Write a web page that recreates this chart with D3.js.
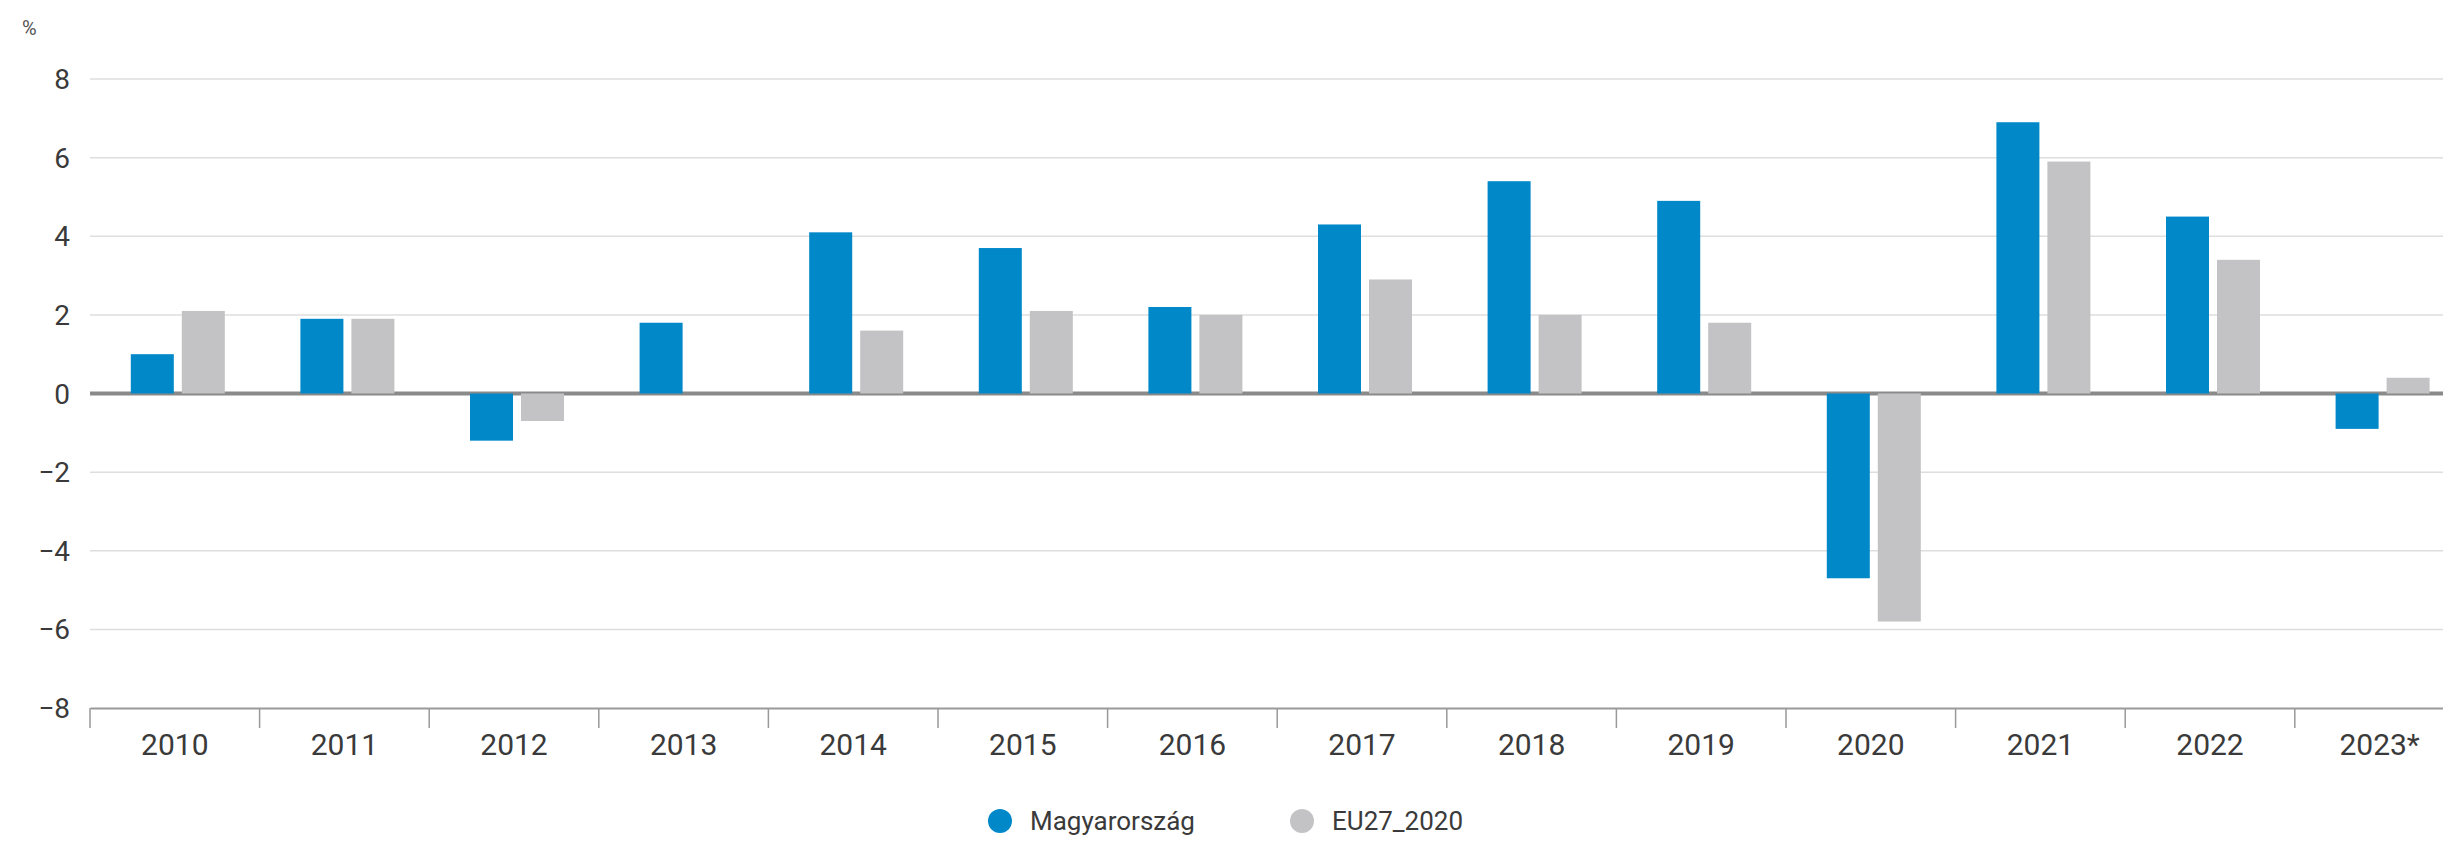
<!DOCTYPE html>
<html><head><meta charset="utf-8">
<script src="https://cdn.jsdelivr.net/npm/d3@7"></script>
<style>html,body{margin:0;padding:0;background:#fff;overflow:hidden}</style>
</head><body>
<svg id="chart" width="2443" height="844"></svg>
<script>
const categories = ["2010","2011","2012","2013","2014","2015","2016","2017","2018","2019","2020","2021","2022","2023*"];
const seriesNames = ["Magyarország","EU27_2020"];
const hungary = [1.0, 1.9, -1.2, 1.8, 4.1, 3.7, 2.2, 4.3, 5.4, 4.9, -4.7, 6.9, 4.5, -0.9];
const eu = [2.1, 1.9, -0.7, 0.0, 1.6, 2.1, 2.0, 2.9, 2.0, 1.8, -5.8, 5.9, 3.4, 0.4];
const yTicks = [-8,-6,-4,-2,0,2,4,6,8];
const colors = ["#0088c9","#c3c3c5"];

(function(){
const svg = d3.select("#chart");
const font = "Roboto, 'Noto Sans', sans-serif";
const plotLeft = 90, bandW = 169.6, plotTop = 79, plotBottom = 708;
const x0 = d3.scaleBand().domain(categories).range([plotLeft, plotLeft + bandW*categories.length]).padding(0);
const y = d3.scaleLinear().domain([-8, 8]).range([plotBottom, plotTop]);
const barW = 43, gap = 8;
const x1 = d3.scaleOrdinal().domain(seriesNames).range([0, barW + gap]);
const groupOff = (x0.bandwidth() - (2*barW + gap))/2 + 3;

// gridlines
svg.append("g").selectAll("line").data(yTicks.filter(d => d !== 0 && d !== -8)).join("line")
  .attr("x1", plotLeft).attr("x2", 2443).attr("y1", d => y(d)).attr("y2", d => y(d))
  .attr("stroke", "#dedede").attr("stroke-width", 1.5);

// y labels
svg.append("g").selectAll("text").data(yTicks).join("text")
  .attr("x", 70).attr("y", d => y(d)).attr("dy", "0.36em").attr("text-anchor", "end")
  .attr("font-family", font).attr("font-size", 28).attr("fill", "#3a3a3a")
  .text(d => d < 0 ? "−" + Math.abs(d) : d);
svg.append("text").attr("x", 22).attr("y", 28).attr("dy","0.35em")
  .attr("font-family", font).attr("font-size", 20).attr("fill", "#555").text("%");

// zero line
svg.append("line").attr("x1", plotLeft).attr("x2", 2443).attr("y1", y(0)).attr("y2", y(0))
  .attr("stroke", "#8a8a8a").attr("stroke-width", 4);

// x axis
const xAxis = d3.axisBottom(x0).tickSize(0).tickPadding(26);
const gx = svg.append("g").attr("transform", `translate(0,${plotBottom})`).call(xAxis);
gx.select(".domain").attr("stroke", "#999").attr("stroke-width", 2);
gx.selectAll("text").attr("font-family", font).attr("font-size", 30).attr("fill", "#3a3a3a");
svg.append("g").selectAll("line").data(categories).join("line")
  .attr("x1", d => x0(d)).attr("x2", d => x0(d)).attr("y1", plotBottom).attr("y2", plotBottom + 20)
  .attr("stroke", "#999").attr("stroke-width", 1.5);

// bars
const data = categories.map((c, i) => ({c, vals: [hungary[i], eu[i]]}));
const groups = svg.append("g").selectAll("g").data(data).join("g")
  .attr("transform", d => `translate(${x0(d.c) + groupOff},0)`);
groups.selectAll("rect").data(d => d.vals.map((v, j) => ({v, s: seriesNames[j], j}))).join("rect")
  .attr("x", d => x1(d.s)).attr("width", barW)
  .attr("y", d => y(Math.max(0, d.v))).attr("height", d => Math.abs(y(d.v) - y(0)))
  .attr("fill", d => colors[d.j]);

// legend
const leg = svg.append("g");
const legX = [1000, 1302];
seriesNames.forEach((s, i) => {
  leg.append("circle").attr("cx", legX[i]).attr("cy", 821).attr("r", 12).attr("fill", colors[i]);
  leg.append("text").attr("x", legX[i] + 30).attr("y", 821).attr("dy", "0.35em")
    .attr("font-family", font).attr("font-size", 26).attr("fill", "#3a3a3a").text(s);
});
})();
</script>
</body></html>
